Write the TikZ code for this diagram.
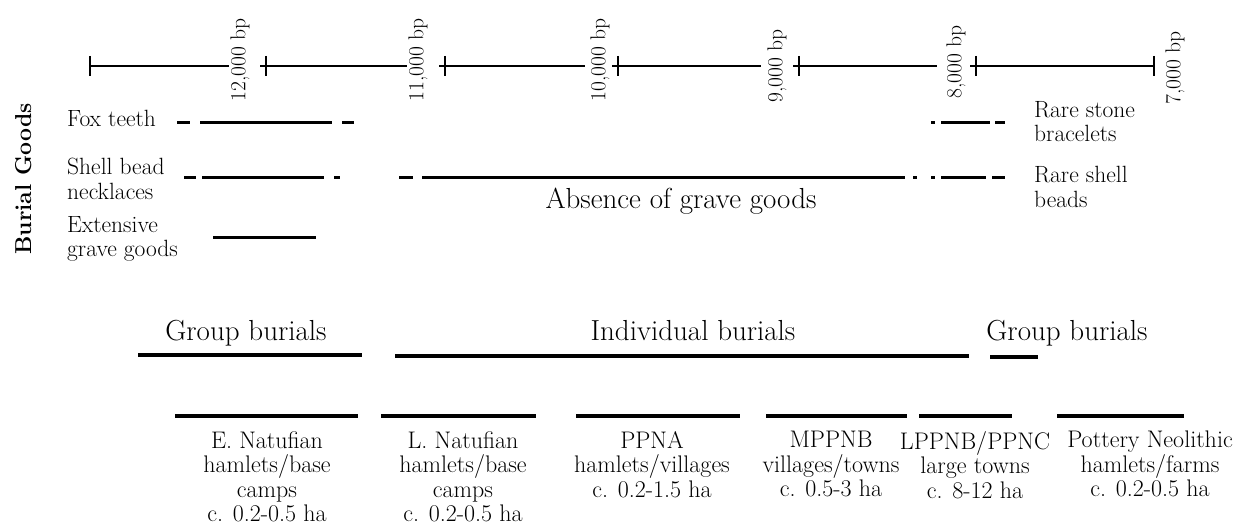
\documentclass[tikz,border=0pt]{standalone}
\usepackage{fontspec}
\usetikzlibrary{positioning}

\begin{document}
\begin{tikzpicture}[x=1pt,y=-1pt,
  lbl/.style={inner sep=0pt,align=left,font=\fontsize{23.5}{24.5}\selectfont},
  datelbl/.style={inner sep=0pt,rotate=90,font=\fontsize{21.5}{24}\selectfont},
  bigtxt/.style={inner sep=0pt,anchor=base,font=\fontsize{29}{32}\selectfont},
  period/.style={inner sep=0pt,align=center,anchor=north,font=\fontsize{24}{24.5}\selectfont},
  axis/.style={line width=2.5pt},
  goods/.style={line width=3pt},
  span/.style={line width=3.5pt}]
\useasboundingbox (0,0) rectangle (1241,524);
% time axis
\coordinate (t0) at (90,66);
\coordinate (t1) at (266,66);
\coordinate (t2) at (445,66);
\coordinate (t3) at (618,66);
\coordinate (t4) at (799,66);
\coordinate (t5) at (976,66);
\coordinate (t6) at (1154,66);
\draw[axis] (t0)--(229,66);
\draw[axis] (260,66)--(407,66);
\draw[axis] (439,66)--(585,66);
\draw[axis] (612,66)--(761,66);
\draw[axis] (793,66)--(937,66);
\draw[axis] (970,66)--(t6);
\draw[axis] (t0) ++(0,-10)--++(0,20);
\draw[axis] (t1) ++(0,-10)--++(0,20);
\draw[axis] (t2) ++(0,-10)--++(0,20);
\draw[axis] (t3) ++(0,-10)--++(0,20);
\draw[axis] (t4) ++(0,-10)--++(0,20);
\draw[axis] (t5) ++(0,-10)--++(0,20);
\draw[axis] (t6) ++(0,-10)--++(0,20);
\node[datelbl] (d12) at (240,60) {12,000 bp};
\node[datelbl] (d11) at (418,60) {11,000 bp};
\node[datelbl] (d10) at (600,60) {10,000 bp};
\node[datelbl] (d9) at (777,66) {9,000 bp};
\node[datelbl] (d8) at (956,62) {8,000 bp};
\node[datelbl] (d7) at (1175,68) {7,000 bp};
% burial goods
\node[inner sep=0pt,rotate=90,anchor=base,font=\fontsize{23}{27}\selectfont\bfseries] (goodsttl) at (31,179) {Burial Goods};
\node[lbl,anchor=base west] (fox) at (67,126) {Fox teeth};
\node[lbl,anchor=north west] (shell) at (67,158) {Shell bead\\necklaces};
\node[lbl,anchor=north west] (extgoods) at (67,216) {Extensive\\grave goods};
\node[lbl,anchor=north west] (stone) at (1034,101) {Rare stone\\bracelets};
\node[lbl,anchor=north west] (rshell) at (1034,166) {Rare shell\\beads};
\node[bigtxt] (absence) at (681,208) {Absence of grave goods};
\draw[goods] (177,123)--(190,123);
\draw[goods] (200,123)--(332,123);
\draw[goods] (342,123)--(354,123);
\draw[goods] (931,123)--(935,123);
\draw[goods] (941,123)--(990,123);
\draw[goods] (995,123)--(1005,123);
\draw[goods] (184,177)--(196,177);
\draw[goods] (202,177)--(324,177);
\draw[goods] (334,177)--(340,177);
\draw[goods] (399,177)--(413,177);
\draw[goods] (422,177)--(905,177);
\draw[goods] (913,177)--(917,177);
\draw[goods] (931,177)--(935,177);
\draw[goods] (941,177)--(986,177);
\draw[goods] (992,177)--(1005,177);
\draw[goods] (213,237)--(316,237);
% burial type
\node[bigtxt] (grpl) at (246,340) {Group burials};
\node[bigtxt] (indiv) at (693,340) {Individual burials};
\node[bigtxt] (grpr) at (1067,340) {Group burials};
\draw[span] (138,355)--(362,355);
\draw[span] (395,356)--(969,356);
\draw[span] (990,357)--(1038,357);
% periods
\draw[span] (175,416)--(358,416);
\draw[span] (381,416)--(536,416);
\draw[span] (576,416)--(740,416);
\draw[span] (766,416)--(907,416);
\draw[span] (919,416)--(1012,416);
\draw[span] (1057,416)--(1184,416);
\node[period] (enat) at (267,431) {E. Natufian\\hamlets/base\\camps\\c. 0.2-0.5 ha};
\node[period] (lnat) at (463,431) {L. Natufian\\hamlets/base\\camps\\c. 0.2-0.5 ha};
\node[period] (ppna) at (652,431) {PPNA\\hamlets/villages\\c. 0.2-1.5 ha};
\node[period] (mppnb) at (831,431) {MPPNB\\villages/towns\\c. 0.5-3 ha};
\node[period] (lppnb) at (975,431) {LPPNB/PPNC\\large towns\\c. 8-12 ha};
\node[period] (potn) at (1150,431) {Pottery Neolithic\\hamlets/farms\\c. 0.2-0.5 ha};
\end{tikzpicture}
\end{document}
